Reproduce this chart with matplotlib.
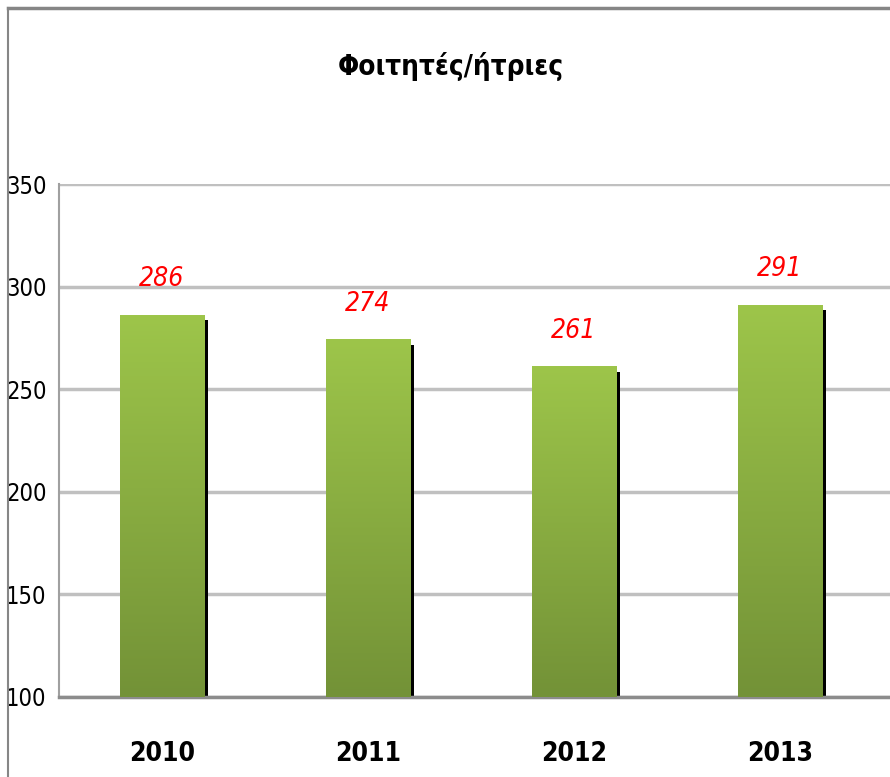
import matplotlib.pyplot as plt
import numpy as np
from matplotlib import font_manager
from matplotlib.colors import LinearSegmentedColormap

years = ["2010", "2011", "2012", "2013"]
students = [286, 274, 261, 291]
title = "Φοιτητές/ήτριες"

# the original uses a narrow font; use a condensed face if one is installed
condensed = any(f.name == "DejaVu Sans" and "condensed" in str(f.stretch)
                for f in font_manager.fontManager.ttflist)
if condensed:
    plt.rcParams['font.family'] = ['DejaVu Sans']
    plt.rcParams['font.stretch'] = 'condensed'
    fs, fs_y, pad_y = 19, 17, 9
else:
    plt.rcParams['font.family'] = ['Liberation Sans', 'DejaVu Sans']
    fs, fs_y, pad_y = 17, 15, 8

fig = plt.figure(figsize=(8.9, 7.77), dpi=100)
ax = fig.add_axes([59 / 890, 80 / 777, 831 / 890, 513 / 777])

# outer chart frame (cut off at right and bottom)
fig.add_artist(plt.Line2D([8 / 890, 1.0], [1 - 8 / 777, 1 - 8 / 777], color="#868686", lw=2.5))
fig.add_artist(plt.Line2D([8 / 890, 8 / 890], [0.0, 1 - 8 / 777], color="#868686", lw=1.5))

x = np.arange(len(years))
w = 0.41
grad = LinearSegmentedColormap.from_list("g", ["#739237", "#9dc54a"])
img = np.linspace(0, 1, 200).reshape(-1, 1)

for xi, v in zip(x, students):
    # black shadow to the right
    ax.bar(xi + 0.02, v - 2.5, width=w, color="black", zorder=2)
    # gradient bar
    ax.imshow(img, cmap=grad, origin="lower", aspect="auto",
              extent=(xi - w / 2, xi + w / 2, 100, v), zorder=3)
    ax.text(xi, v + 17.5, str(v), color="red", style="italic",
            fontsize=fs, ha="center", va="center", zorder=4)

ax.set_xlim(-0.5, 3.534)
ax.set_ylim(100, 350)
ax.set_yticks([100, 150, 200, 250, 300, 350])
ax.set_xticks(x)
ax.set_xticklabels(years, fontweight="bold")
ax.tick_params(axis="y", length=0, pad=pad_y, labelsize=fs_y)
ax.tick_params(axis="x", length=0, pad=32, labelsize=fs)
ax.yaxis.grid(True, color="#c0c0c0", lw=2.5, zorder=0)
ax.set_axisbelow(True)

for s in ["top", "right"]:
    ax.spines[s].set_visible(False)
ax.spines["left"].set_color("#a0a0a0")
ax.spines["left"].set_linewidth(1.5)
ax.spines["bottom"].set_color("#8c8c8c")
ax.spines["bottom"].set_linewidth(2.5)

fig.text(451 / 890, 1 - 75 / 777, title, fontsize=20, fontweight="bold",
         ha="center", va="baseline")

fig.savefig("out.png", dpi=100)
